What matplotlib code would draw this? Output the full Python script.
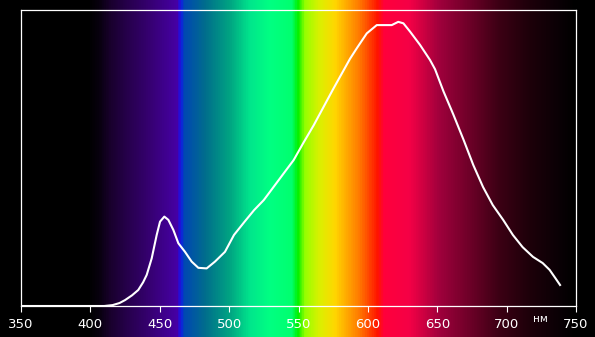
import numpy as np
import matplotlib
matplotlib.use("Agg")
import matplotlib.pyplot as plt
from matplotlib.colors import LinearSegmentedColormap

## DATA ##
wavelength = [350, 410, 416, 421, 425, 430, 434.5, 438, 440.6, 444.2, 447.8, 450.2, 453.3,
              456.2, 459.8, 463.4, 468.2, 473, 477.8, 483.8, 489.8, 497, 503.5, 511, 518,
              525, 532, 539, 546.5, 553.5, 561, 568, 575, 582, 587.1, 591.9, 599.2, 606.4,
              617.2, 621.9, 625.6, 630.4, 637.6, 644.8, 648.4, 654.5, 661.5, 669, 676, 683,
              690, 697.5, 704.5, 711.5, 719, 726, 731, 735, 738.5]
intensity = [0, 0, 0.003, 0.010, 0.020, 0.036, 0.054, 0.080, 0.105, 0.161, 0.240, 0.285,
             0.302, 0.291, 0.257, 0.212, 0.183, 0.150, 0.129, 0.127, 0.150, 0.183, 0.24,
             0.284, 0.324, 0.358, 0.402, 0.446, 0.493, 0.551, 0.611, 0.672, 0.733, 0.792,
             0.835, 0.870, 0.921, 0.949, 0.949, 0.960, 0.955, 0.927, 0.882, 0.831, 0.800,
             0.725, 0.648, 0.561, 0.476, 0.402, 0.341, 0.291, 0.24, 0.199, 0.166, 0.145,
             0.122, 0.095, 0.071]
xticks = [350, 400, 450, 500, 550, 600, 650, 700, 750]
## DATA ##

## spectrum background colours (wavelength, rgb) ##
spec = [(334, (0, 0, 0)), (398, (0, 0, 0)), (406, (8, 0, 15)), (414, (25, 0, 45)),
        (428, (40, 0, 80)), (443, (55, 0, 115)), (462.4, (70, 0, 165)),
        (464.6, (20, 20, 240)), (466.8, (0, 70, 180)),
        (482.6, (0, 110, 140)), (500.6, (0, 165, 130)), (515, (0, 230, 140)),
        (529.5, (0, 255, 130)), (545.3, (0, 255, 110)), (549.6, (0, 240, 0)),
        (554.7, (150, 255, 0)), (565.5, (220, 240, 0)), (576.3, (255, 215, 0)),
        (594.3, (255, 120, 0)), (607.3, (255, 20, 0)), (612.3, (255, 0, 60)),
        (630.4, (245, 0, 70)), (652, (160, 0, 60)), (673.6, (110, 0, 40)),
        (695.2, (60, 0, 20)), (716.8, (30, 0, 10)), (738.5, (10, 0, 5)),
        (750, (0, 0, 0)), (764, (0, 0, 0))]

fig = plt.figure(figsize=(5.95, 3.37), dpi=100, facecolor='black')

# background gradient over whole figure
px = 555 / 400.0
x0 = 350 - 21 / px
x1 = 750 + 19 / px
bg = fig.add_axes([0, 0, 1, 1])
bg.set_xlim(x0, x1)
bg.set_ylim(0, 1)
bg.axis('off')
w0, w1 = spec[0][0], spec[-1][0]
cmap = LinearSegmentedColormap.from_list(
    'spec', [((w - w0) / (w1 - w0), tuple(c / 255.0 for c in rgb)) for w, rgb in spec])
grad = np.linspace(0, 1, 1200).reshape(1, -1)
bg.imshow(grad, cmap=cmap, aspect='auto', extent=[w0, w1, 0, 1], interpolation='bilinear')

ax = fig.add_axes([21 / 595, 31 / 337, 555 / 595, 296 / 337])
ax.patch.set_alpha(0)
ax.plot(wavelength, intensity, c='white', lw=1.5)
ax.set_xlim(350, 750)
ax.set_ylim(0, 1)
ax.set_xticks(xticks)
ax.set_yticks([])
for sp in ax.spines.values():
    sp.set_color('white')
    sp.set_linewidth(0.9)
ax.tick_params(axis='x', colors='white', length=4, width=0.8, pad=5, labelsize=9.5)
fig.text(540 / 595, 1 - 319 / 337, 'нм', color='white', fontsize=7.5, ha='center', va='center')

plt.savefig('out.png', dpi=100, facecolor='black')
